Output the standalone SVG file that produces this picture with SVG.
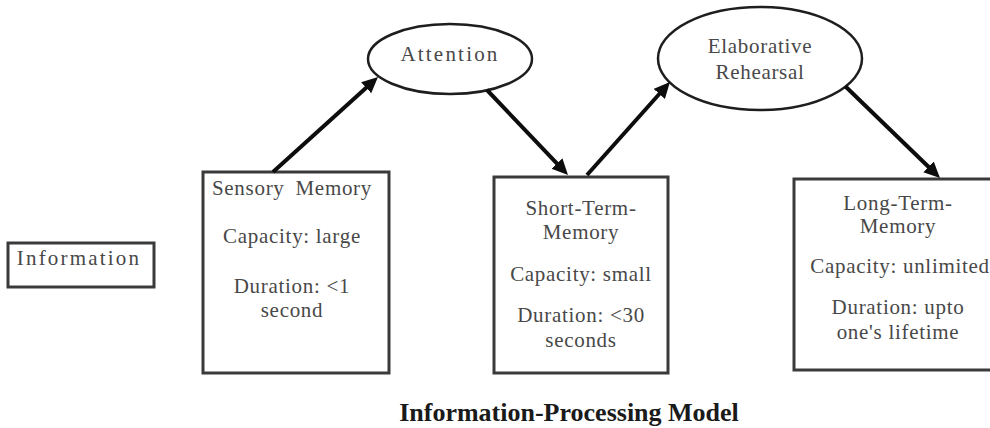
<svg xmlns="http://www.w3.org/2000/svg" width="990" height="428" viewBox="0 0 990 428">
  <style>
    .box { fill: #ffffff; stroke: #3a3a3a; stroke-width: 3; }
    .oval { fill: #ffffff; stroke: #1e1e1e; stroke-width: 2.5; }
    .txt { font-family: "Liberation Serif", "Times New Roman", serif; font-size: 21px; fill: #484848; text-anchor: middle; letter-spacing: 0.7px; }
    .wide { letter-spacing: 2.2px; }
    .title { font-family: "Liberation Serif", "Times New Roman", serif; font-size: 26px; font-weight: bold; fill: #1a1a1a; text-anchor: middle; }
    .arrow { stroke: #0d0d0d; stroke-width: 4; fill: none; marker-end: url(#head); }
  </style>
  <defs>
    <marker id="head" markerUnits="userSpaceOnUse" markerWidth="18" markerHeight="16" refX="6" refY="7.5" orient="auto">
      <path d="M0,0 L16,7.5 L0,15 z" fill="#0d0d0d"/>
    </marker>
  </defs>

  <rect width="990" height="428" fill="#ffffff"/>

  <!-- input -->
  <g id="information">
    <rect class="box" x="8" y="243" width="146" height="44"/>
    <text class="txt wide" x="79" y="265">Information</text>
  </g>

  <!-- sensory register -->
  <g id="sensory-memory">
    <rect class="box" x="203" y="172" width="186" height="201"/>
    <text class="txt" x="292" y="195" word-spacing="5">Sensory Memory</text>
    <text class="txt" x="292" y="243">Capacity: large</text>
    <text class="txt" x="292" y="293">Duration: &lt;1</text>
    <text class="txt" x="292" y="317">second</text>
  </g>

  <!-- attention -->
  <g id="attention">
    <ellipse class="oval" cx="450" cy="59" rx="82" ry="35"/>
    <text class="txt wide" x="450" y="61">Attention</text>
  </g>

  <!-- working store -->
  <g id="short-term-memory">
    <rect class="box" x="494" y="177" width="174" height="196"/>
    <text class="txt" x="581" y="215">Short-Term-</text>
    <text class="txt" x="581" y="239">Memory</text>
    <text class="txt" x="581" y="281">Capacity: small</text>
    <text class="txt" x="581" y="322">Duration: &lt;30</text>
    <text class="txt" x="581" y="347">seconds</text>
  </g>

  <!-- elaborative rehearsal -->
  <g id="elaborative-rehearsal">
    <ellipse class="oval" cx="760" cy="58.5" rx="102" ry="51.5"/>
    <text class="txt" x="760" y="53" letter-spacing="1.3">Elaborative</text>
    <text class="txt" x="760" y="79" letter-spacing="1.2">Rehearsal</text>
  </g>

  <!-- permanent store -->
  <g id="long-term-memory">
    <rect class="box" x="794" y="179" width="208" height="191"/>
    <text class="txt" x="898" y="210">Long-Term-</text>
    <text class="txt" x="898" y="233">Memory</text>
    <text class="txt" x="900" y="273" letter-spacing="1">Capacity: unlimited</text>
    <text class="txt" x="898" y="314">Duration: upto</text>
    <text class="txt" x="898" y="339">one's lifetime</text>
  </g>

  <!-- flow arrows -->
  <g id="connectors">
    <line class="arrow" x1="273" y1="172" x2="370.6" y2="83.7"/>
    <line class="arrow" x1="487" y1="90" x2="561.1" y2="167.8"/>
    <line class="arrow" x1="587" y1="175" x2="663.3" y2="89.5"/>
    <line class="arrow" x1="845" y1="86" x2="932.8" y2="171"/>
  </g>

  <text class="title" x="569" y="421">Information-Processing Model</text>
</svg>
